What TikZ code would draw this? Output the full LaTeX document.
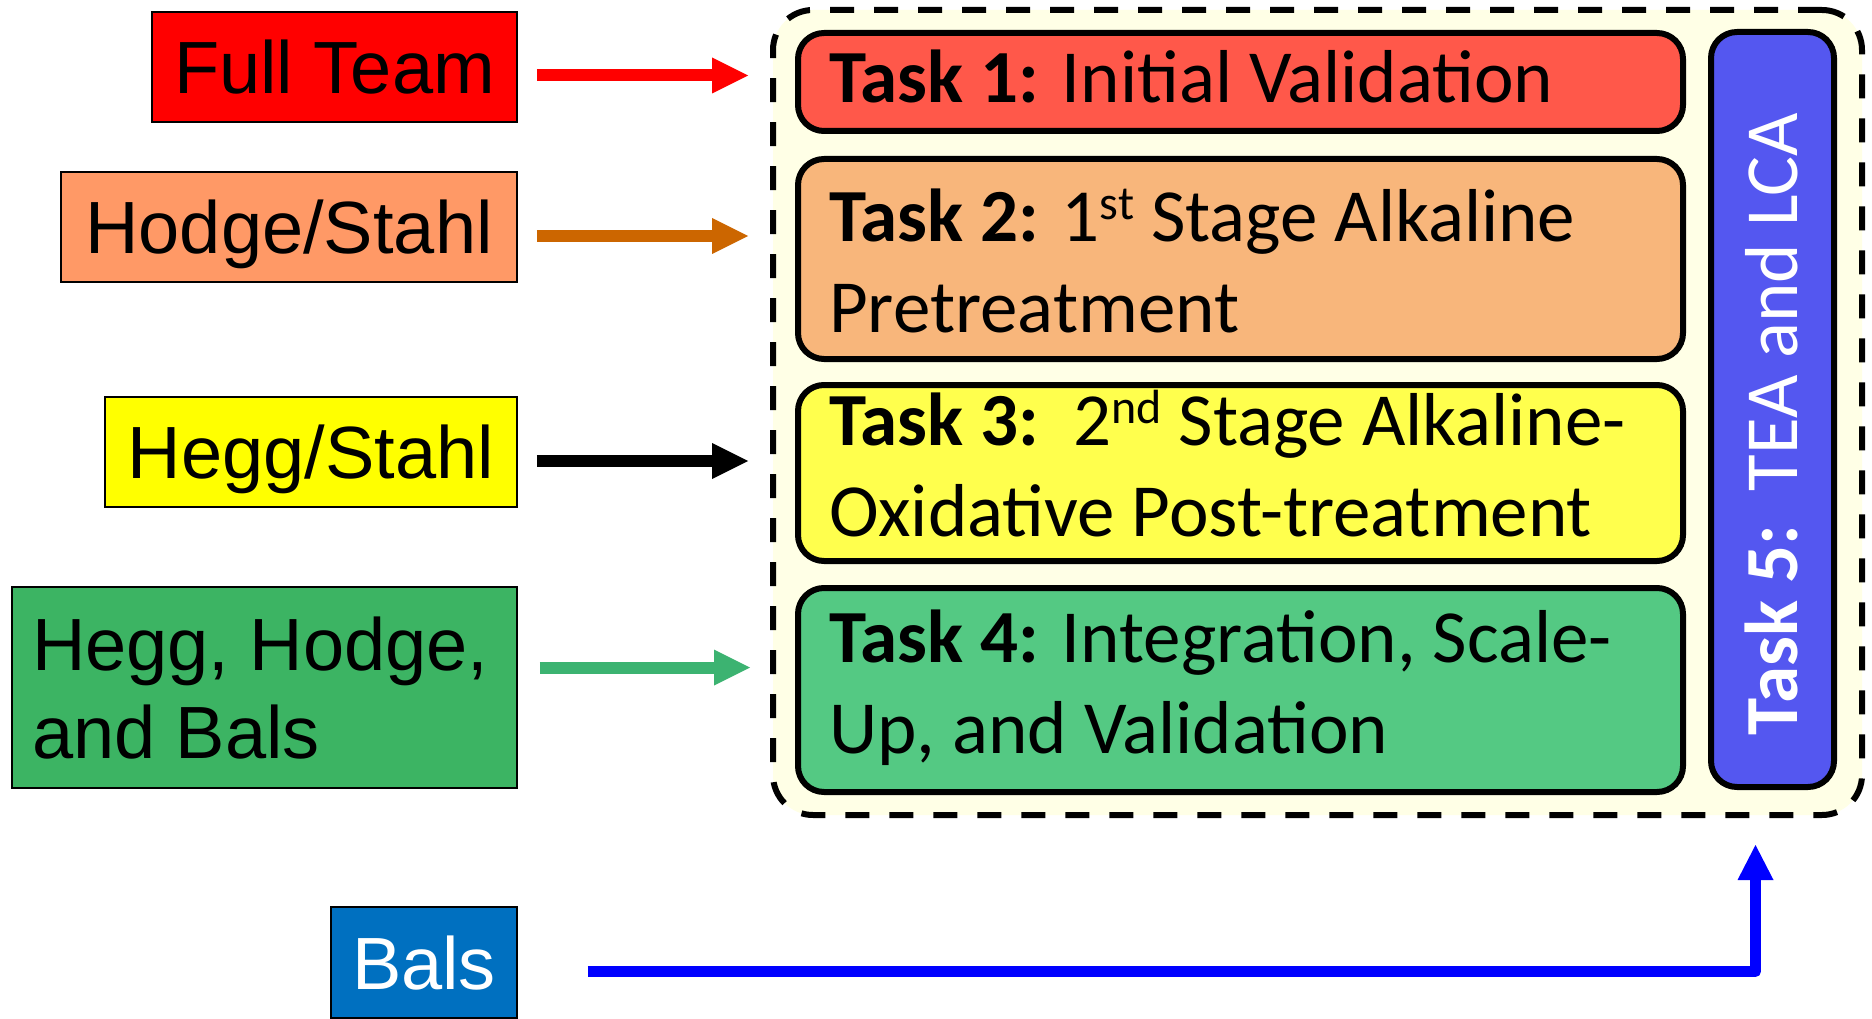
\documentclass[tikz,border=0pt]{standalone}
\usepackage{fontspec}
\setmainfont{Carlito}
\newfontfamily\arialfont{Liberation Sans}
\usetikzlibrary{arrows.meta}

\definecolor{teamred}{HTML}{FF0000}
\definecolor{teamorange}{HTML}{FF9966}
\definecolor{teamyellow}{HTML}{FFFF00}
\definecolor{teamgreen}{HTML}{3CB463}
\definecolor{teamblue}{HTML}{0070C0}
\definecolor{arrorange}{HTML}{CC6600}
\definecolor{arrgreen}{HTML}{3CB371}
\definecolor{arrblue}{HTML}{0000FF}
\definecolor{panel}{HTML}{FFFFE6}
\definecolor{taskone}{HTML}{FF584A}
\definecolor{tasktwo}{HTML}{F8B67B}
\definecolor{taskthree}{HTML}{FFFF4D}
\definecolor{taskfour}{HTML}{54C983}
\definecolor{taskfive}{HTML}{5457F0}

% raised ordinal suffix
\newcommand\sups[1]{\raisebox{22pt}{\fontsize{48}{48}\selectfont #1}}
% two left-aligned lines, baseline on the first one
\newcommand\twolines[2]{\begin{tabular}[t]{@{}l@{}}#1\\#2\end{tabular}}
\newcommand\twolinesw[3]{\begin{tabular}[t]{@{}p{#1}@{}}#2\\#3\end{tabular}}

\begin{document}
\begin{tikzpicture}[x=1pt,y=-1pt,
  who/.style={draw=black, line width=1.5pt, inner sep=0pt,
    font=\arialfont\fontsize{74}{88}\selectfont, text height=53pt, text depth=0pt},
  task/.style={draw=black, line width=6pt, rounded corners=26pt, inner sep=0pt},
  tasktext/.style={anchor=base west, inner sep=0pt, font=\fontsize{75}{91}\selectfont},
  feed/.style={line width=12pt,
    -{Triangle[width=36pt,length=36pt,line width=0pt]}},
  feedup/.style={line width=11pt, line join=round, arrblue,
    -{Triangle[width=36pt,length=35pt,line width=0pt]}},
]
\useasboundingbox[fill=white] (0,0) rectangle (1872,1019);

% team boxes
\node[who, fill=teamred, minimum width=365pt, minimum height=110pt] (ft) at (334.5,67) {Full Team};
\node[who, fill=teamorange, minimum width=456pt, minimum height=110pt] (hs) at (289,227) {Hodge/Stahl};
\node[who, fill=teamyellow, minimum width=412pt, minimum height=110pt] (hgs) at (311,452) {Hegg/Stahl};
\node[who, fill=teamgreen, minimum width=505pt, minimum height=201pt, inner xsep=20pt,
      text depth=88pt] (hhb) at (264.5,687.5) {\twolinesw{465pt}{Hegg, Hodge,}{and Bals}};
\node[who, fill=teamblue, text=white, minimum width=186pt, minimum height=111pt] (bals) at (424,962.5) {Bals};

% dashed panel holding the tasks
\node[draw=black, fill=panel, line width=6pt, dash pattern=on 24pt off 20pt,
      rounded corners=40pt, minimum width=1089pt, minimum height=805pt] (cont) at (1317.5,412.5) {};

% task boxes
\node[task, fill=taskone,   minimum width=885pt, minimum height=98pt]  (t1) at (1240.5,82) {};
\node[task, fill=tasktwo,   minimum width=885pt, minimum height=200pt] (t2) at (1240.5,259) {};
\node[task, fill=taskthree, minimum width=885pt, minimum height=176pt] (t3) at (1240.5,473) {};
\node[task, fill=taskfour,  minimum width=885pt, minimum height=204pt] (t4) at (1240.5,690) {};
\node[task, fill=taskfive,  minimum width=123pt, minimum height=755pt] (t5) at (1772.5,409.5) {};

\node[tasktext] (t1txt) at (829,103) {\textbf{Task 1:} Initial Validation};
\node[tasktext] (t2txt) at (829,242) {\twolines{\textbf{Task 2:} 1\sups{st} Stage Alkaline}{Pretreatment}};
\node[tasktext] (t3txt) at (829,445) {\twolines{\textbf{Task 3:}\ \ 2\sups{nd} Stage Alkaline-}{Oxidative Post-treatment}};
\node[tasktext] (t4txt) at (829,662) {\twolines{\textbf{Task 4:} Integration, Scale-}{Up, and Validation}};
\node[anchor=base, rotate=90, inner sep=0pt, text=white, font=\fontsize{75}{91}\selectfont]
  (t5txt) at (1797,424) {\textbf{Task 5:}\ \ TEA and LCA};

% arrow starts beside each team box
\coordinate (s1) at ([shift={(19,8.5)}]ft.east);
\coordinate (s2) at ([shift={(19,9)}]hs.east);
\coordinate (s3) at ([shift={(19,9)}]hgs.east);
\coordinate (s4) at ([shift={(22,-20)}]hhb.east);
\coordinate (s5) at ([shift={(70,9)}]bals.east);
% matching points on the panel edge
\coordinate (in1) at (s1 -| cont.west);
\coordinate (in2) at (s2 -| cont.west);
\coordinate (in3) at (s3 -| cont.west);
\coordinate (in4) at (s4 -| cont.west);
\coordinate (t5foot) at (t5.center |- cont.south);

% assignments
\draw[feed, teamred]   (s1) -- ([shift={(-22,0)}]in1);
\draw[feed, arrorange] (s2) -- ([shift={(-22,0)}]in2);
\draw[feed, black]     (s3) -- ([shift={(-22,0)}]in3);
\draw[feed, arrgreen]  (s4) -- ([shift={(-20,0)}]in4);
\draw[feedup] (s5) -| ([shift={(-17,27)}]t5foot);
\end{tikzpicture}
\end{document}
